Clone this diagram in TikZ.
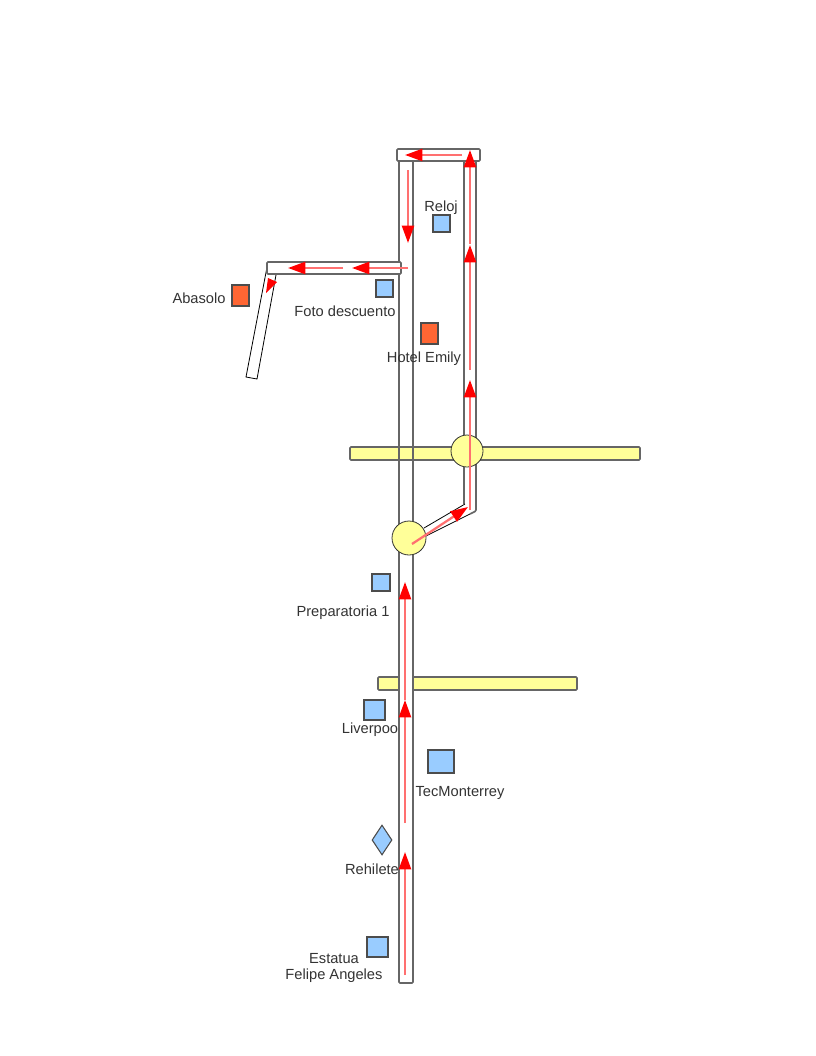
\documentclass[tikz,border=0pt]{standalone}
\usepackage{fontspec}
\setmainfont{Liberation Sans}
\usetikzlibrary{arrows.meta,shapes.geometric}
\definecolor{roadgray}{HTML}{666666}
\definecolor{avyellow}{HTML}{FFFF99}
\definecolor{shopblue}{HTML}{99CCFF}
\definecolor{shoporange}{HTML}{FF6633}
\definecolor{routered}{HTML}{FF7070}
\definecolor{labelgray}{HTML}{333333}
\tikzset{
  road/.style={draw=roadgray, line width=1.2pt, rounded corners=0.8pt},
  avenue/.style={road, fill=avyellow},
  lane/.style={draw=black, line width=0.6pt},
  glorieta/.style={circle, draw=black!80, fill=avyellow, line width=0.6pt, inner sep=0pt},
  place/.style={draw=black!70, line width=0.8pt, inner sep=0pt},
  blueplace/.style={rectangle, place, fill=shopblue},
  orangeplace/.style={rectangle, place, fill=shoporange},
  placename/.style={text=labelgray, font=\fontsize{11}{12}\selectfont, inner sep=0pt},
  route/.style={draw=routered, line width=1.7pt, -{Triangle[length=13pt,width=9pt,color=red]}}
}
\begin{document}
\begin{tikzpicture}[x=0.75pt, y=-0.75pt]
            \useasboundingbox (0, 0) rectangle (816, 1056);
            % avenues
            \draw[avenue] (350, 447) rectangle (640, 460);
            \draw[avenue] (378, 677) rectangle (577, 690);
            % main street
            \draw[road, fill=white] (399, 537) rectangle (413, 983);
            \draw[road] (399, 161) rectangle (413, 537);
            \draw[road] (464, 161) -- (464, 504);
            \draw[road] (476, 161) -- (476, 511) -- (470, 514);
            \draw[lane] (424, 528) -- (465, 504);
            \draw[lane] (426, 536) -- (470, 514);
            \node[glorieta, minimum size=25.5pt] (gl2) at (409, 538) {};
            \node[glorieta, minimum size=24pt] (gl1) at (467, 451) {};
            \draw[road, fill=white] (397, 149) rectangle (480, 161);
            % street to Abasolo
            \draw[lane, fill=white] (268, 262) -- (278, 264) -- (257, 379) -- (246, 377) -- cycle;
            \draw[road, fill=white] (267, 262) rectangle (401, 274);
            % places
            \node[blueplace, minimum width=12.75pt, minimum height=12.75pt] (reloj) at (441.5, 223.5) {};
            \node[placename] (relojtxt) at (441, 208) {Reloj};
            \node[blueplace, minimum width=12.75pt, minimum height=12.75pt] (foto) at (384.5, 288.5) {};
            \node[placename] (fototxt) at (345, 311) {Foto descuento};
            \node[orangeplace, minimum width=12.75pt, minimum height=15.75pt] (hotel) at (429.5, 333.5) {};
            \node[placename] (hoteltxt) at (424, 359) {Hotel Emily};
            \node[orangeplace, minimum width=12.75pt, minimum height=15.75pt] (abasolo) at (240.5, 295.5) {};
            \node[placename] (abasolotxt) at (199, 298) {Abasolo};
            \node[blueplace, minimum width=13.5pt, minimum height=12.75pt] (prepa) at (381, 582.5) {};
            \node[placename] (prepatxt) at (343, 613) {Preparatoria 1};
            \node[blueplace, minimum width=15.75pt, minimum height=15pt] (liverpool) at (374.5, 710) {};
            \node[placename] (liverpooltxt) at (370, 730) {Liverpoo};
            \node[blueplace, minimum width=19.5pt, minimum height=17.25pt] (tec) at (441, 761.5) {};
            \node[placename] (tectxt) at (460, 793) {TecMonterrey};
            \node[place, diamond, fill=shopblue, minimum width=15pt, minimum height=22.5pt] (rehilete) at (382, 840) {};
            \node[placename] (rehiletetxt) at (372, 869) {Rehilete};
            \node[blueplace, minimum width=15.75pt, minimum height=15pt] (estatua) at (377.5, 947) {};
            \node[placename, align=center] (estatuatxt) at (334, 968) {Estatua\\Felipe Angeles};
            % route
            \draw[route] (405, 975) -- (405, 852);
            \draw[route] (405, 823) -- (405, 700);
            \draw[route] (405, 700) -- (405, 582);
            \draw[route] (412, 544) -- (468, 507);
            \draw[route] (470, 510) -- (470, 380);
            \draw[route] (470, 370) -- (470, 245);
            \draw[route] (470, 244) -- (470, 150);
            \draw[route] (462, 155) -- (405, 155);
            \draw[route] (408, 170) -- (408, 243);
            \draw[route] (408, 268) -- (352, 268);
            \draw[route] (343, 268) -- (288, 268);
            \fill[red] (266, 293) -- (268, 278) -- (277, 282) -- cycle;
        \end{tikzpicture}
\end{document}
